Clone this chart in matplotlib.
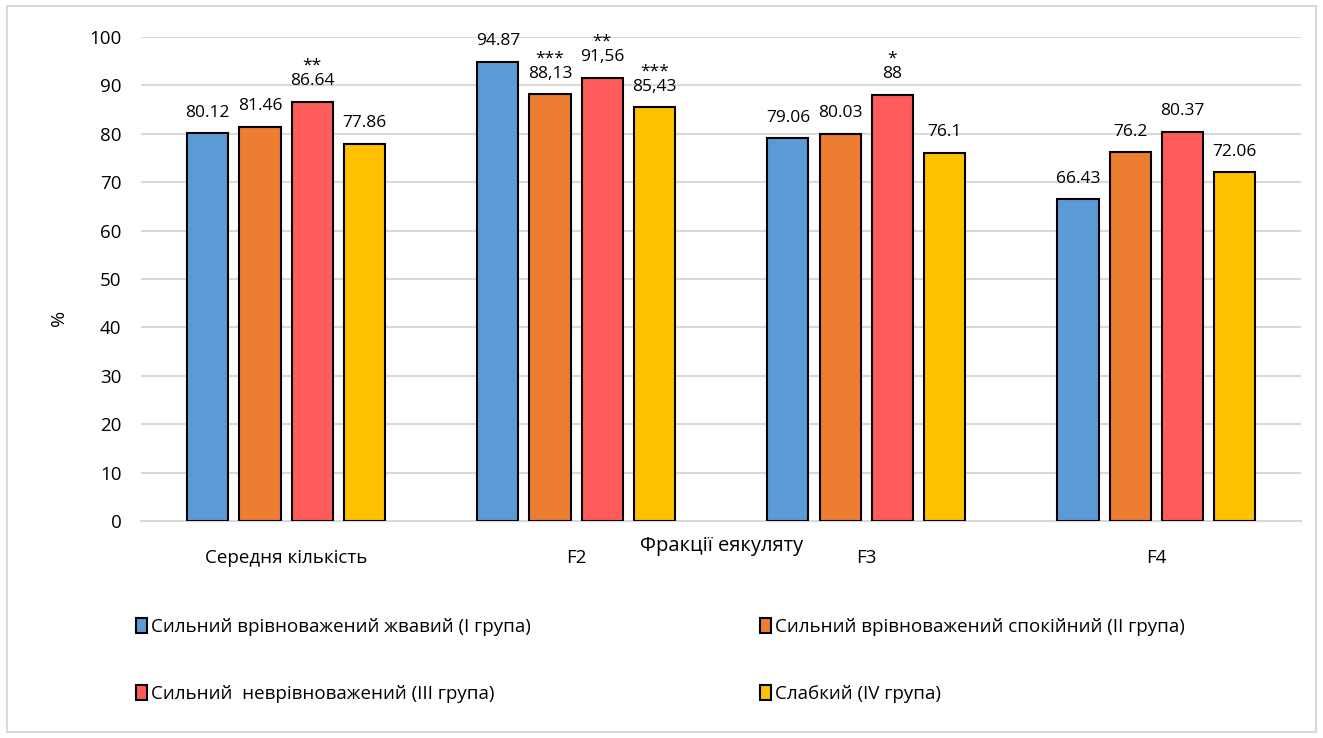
import numpy as np
import matplotlib.pyplot as plt
from matplotlib.patches import Rectangle

plt.rcParams['font.family'] = ['Open Sans', 'DejaVu Sans']

categories = ['Середня кількість', 'F2', 'F3', 'F4']
groups = ['Сильний врівноважений жвавий (І група)',
          'Сильний врівноважений спокійний (ІІ група)',
          'Сильний  неврівноважений (ІІІ група)',
          'Слабкий (IV група)']
values = [
    [80.12, 94.87, 79.06, 66.43],
    [81.46, 88.13, 80.03, 76.2],
    [86.64, 91.56, 88.0, 80.37],
    [77.86, 85.43, 76.1, 72.06],
]
# підписи над стовпчиками (як у таблиці) та позначки достовірності
labels = [
    ['80.12', '94.87', '79.06', '66.43'],
    ['81.46', '88,13', '80.03', '76.2'],
    ['86.64', '91,56', '88', '80.37'],
    ['77.86', '85,43', '76.1', '72.06'],
]
stars = [
    ['', '', '', ''],
    ['', '***', '', ''],
    ['**', '**', '*', ''],
    ['', '***', '', ''],
]
colors = ['#5B9BD5', '#ED7D31', '#FF5B5B', '#FFC000']

fig = plt.figure(figsize=(13.23, 7.38), dpi=100)
ax = fig.add_axes([0.1066, 0.294, 0.877, 0.656])

x = np.arange(len(categories))
width = 0.142
step = 0.18
bars = []
for i in range(4):
    pos = x + (i - 1.5) * step
    b = ax.bar(pos, values[i], width, color=colors[i], edgecolor='black',
               linewidth=1.5, label=groups[i], zorder=3)
    bars.append(b)
    for j in range(len(categories)):
        txt = labels[i][j]
        if stars[i][j]:
            txt = stars[i][j] + '\n' + txt
        ax.text(pos[j], values[i][j] + 2.6, txt, ha='center', va='bottom',
                fontsize=12.5, linespacing=0.95, zorder=4)

ax.set_xlim(-0.5, 3.5)
ax.set_ylim(0, 100)
ax.set_yticks(np.arange(0, 101, 10))
ax.set_xticks(x)
ax.set_xticklabels(categories, fontsize=13.5)
ax.tick_params(axis='y', labelsize=13.5, length=0, pad=14)
ax.tick_params(axis='x', length=0, pad=20)
ax.grid(axis='y', color='#D9D9D9', linewidth=1.5, zorder=0)
for s in ['top', 'right', 'left']:
    ax.spines[s].set_visible(False)
ax.spines['bottom'].set_color('#D9D9D9')
ax.spines['bottom'].set_linewidth(1.5)
ax.set_ylabel('%', fontsize=14)
ax.yaxis.set_label_coords(-0.063, 0.42)
ax.set_xlabel('Фракції еякуляту', fontsize=14.5)
ax.xaxis.set_label_coords(0.5, -0.03)

# легенда по рядках: І, ІІ / ІІІ, IV
order = [0, 2, 1, 3]
leg = fig.legend([bars[k] for k in order], [groups[k] for k in order],
                 loc='upper left', bbox_to_anchor=(0.090, 0.186), ncol=2,
                 frameon=False, fontsize=13.5, handlelength=0.6, handleheight=0.9,
                 handletextpad=0.2, columnspacing=12.2, labelspacing=2.6)

fig.patches.append(Rectangle((0.005, 0.008), 0.99, 0.984, transform=fig.transFigure,
                             fill=False, edgecolor='#D9D9D9', linewidth=1.5))

fig.savefig('out.png', dpi=100)
